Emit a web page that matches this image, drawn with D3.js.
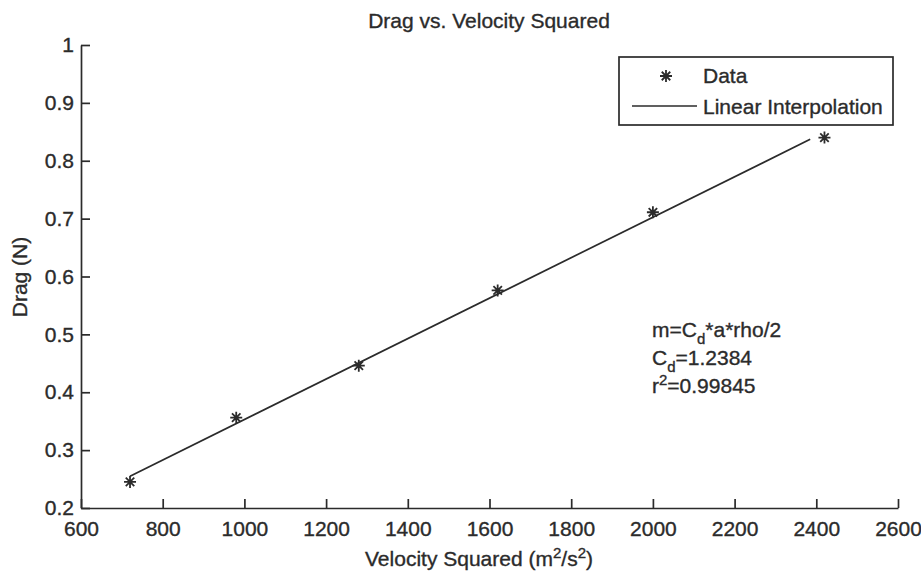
<!DOCTYPE html>
<html>
<head>
<meta charset="utf-8">
<script src="https://cdn.jsdelivr.net/npm/d3@7/dist/d3.min.js"></script>
<style>
  html, body { margin: 0; padding: 0; background: #fff; }
  svg { display: block; }
  text { font-family: "Liberation Sans", Arial, sans-serif; fill: #2b2b2b; stroke: #2b2b2b; stroke-width: 0.35px; }
</style>
</head>
<body>
<svg id="chart" width="921" height="574"></svg>
<script>
// Measured drag against squared velocity
const velocitySq = [720, 980, 1280, 1620, 2000, 2420];
const drag = [0.245, 0.356, 0.446, 0.576, 0.711, 0.840];

// Least-squares line as plotted (end points)
const fitX = [720, 2385];
const fitY = [0.255, 0.837];

const xTicks = [600, 800, 1000, 1200, 1400, 1600, 1800, 2000, 2200, 2400, 2600];
const yTicks = [0.2, 0.3, 0.4, 0.5, 0.6, 0.7, 0.8, 0.9, 1];

const titleText = "Drag vs. Velocity Squared";
const yLabel = "Drag (N)";
const legendLabels = ["Data", "Linear Interpolation"];

const ink = "#2b2b2b";
const fs = 21, fsSmall = 15;
const svg = d3.select("#chart");
const m = { left: 81, right: 898, top: 45, bottom: 508 };

const x = d3.scaleLinear().domain([600, 2600]).range([m.left, m.right]);
const y = d3.scaleLinear().domain([0.2, 1]).range([m.bottom, m.top]);

// Axes with inward ticks (no box)
const xAxis = svg.append("g").attr("transform", `translate(0,${m.bottom})`)
  .call(d3.axisBottom(x).tickValues(xTicks).tickSize(-9).tickSizeOuter(0).tickPadding(13).tickFormat(d3.format("d")));
const yAxis = svg.append("g").attr("transform", `translate(${m.left},0)`)
  .call(d3.axisLeft(y).tickValues(yTicks).tickSize(-9).tickSizeOuter(0).tickPadding(7).tickFormat(d => d === 1 ? "1" : d3.format(".1f")(d)));

[xAxis, yAxis].forEach(g => {
  g.select(".domain").attr("stroke", ink).attr("stroke-width", 1.7);
  g.selectAll(".tick line").attr("stroke", ink).attr("stroke-width", 1.7);
  g.selectAll(".tick text").attr("font-size", fs).attr("fill", ink)
    .style("font-family", "'Liberation Sans', Arial, sans-serif");
});

// Fitted line
svg.append("line")
  .attr("x1", x(fitX[0])).attr("y1", y(fitY[0]))
  .attr("x2", x(fitX[1])).attr("y2", y(fitY[1]))
  .attr("stroke", ink).attr("stroke-width", 1.7);

// Asterisk marker
const starPath = r => {
  const d = r * Math.SQRT1_2;
  return `M${-r},0L${r},0M0,${-r}L0,${r}M${-d},${-d}L${d},${d}M${-d},${d}L${d},${-d}`;
};
svg.append("g").selectAll("path").data(velocitySq).join("path")
  .attr("transform", (v, i) => `translate(${x(v)},${y(drag[i])})`)
  .attr("d", starPath(6))
  .attr("stroke", ink).attr("stroke-width", 1.8).attr("fill", "none");

// Title and axis labels
svg.append("text").attr("x", 489).attr("y", 28).attr("text-anchor", "middle")
  .attr("font-size", fs).text(titleText);

svg.append("text").attr("transform", "translate(27,277) rotate(-90)")
  .attr("text-anchor", "middle").attr("font-size", fs).text(yLabel);

const xl = svg.append("text").attr("x", 479).attr("y", 566).attr("text-anchor", "middle").attr("font-size", fs);
xl.append("tspan").text("Velocity Squared (m");
xl.append("tspan").attr("dy", -8).attr("font-size", fsSmall).text("2");
xl.append("tspan").attr("dy", 8).text("/s");
xl.append("tspan").attr("dy", -8).attr("font-size", fsSmall).text("2");
xl.append("tspan").attr("dy", 8).text(")");

// Legend
const lg = svg.append("g");
lg.append("rect").attr("x", 619).attr("y", 57).attr("width", 274).attr("height", 68)
  .attr("fill", "#fff").attr("stroke", ink).attr("stroke-width", 1.7);
lg.append("path").attr("transform", "translate(666,76)").attr("d", starPath(6))
  .attr("stroke", ink).attr("stroke-width", 1.8).attr("fill", "none");
lg.append("text").attr("x", 703).attr("y", 83).attr("font-size", fs).text(legendLabels[0]);
lg.append("line").attr("x1", 632).attr("x2", 697).attr("y1", 106).attr("y2", 106)
  .attr("stroke", ink).attr("stroke-width", 1.7);
lg.append("text").attr("x", 703).attr("y", 114).attr("font-size", fs).text(legendLabels[1]);

// Fit annotation
const ann = svg.append("g").attr("font-size", fs);
const a1 = ann.append("text").attr("x", 652).attr("y", 337);
a1.append("tspan").text("m=C");
a1.append("tspan").attr("dy", 7).attr("font-size", fsSmall).text("d");
a1.append("tspan").attr("dy", -7).text("*a*rho/2");
const a2 = ann.append("text").attr("x", 652).attr("y", 365);
a2.append("tspan").text("C");
a2.append("tspan").attr("dy", 7).attr("font-size", fsSmall).text("d");
a2.append("tspan").attr("dy", -7).text("=1.2384");
const a3 = ann.append("text").attr("x", 652).attr("y", 393);
a3.append("tspan").text("r");
a3.append("tspan").attr("dy", -8).attr("font-size", fsSmall).text("2");
a3.append("tspan").attr("dy", 8).text("=0.99845");
</script>
</body>
</html>
